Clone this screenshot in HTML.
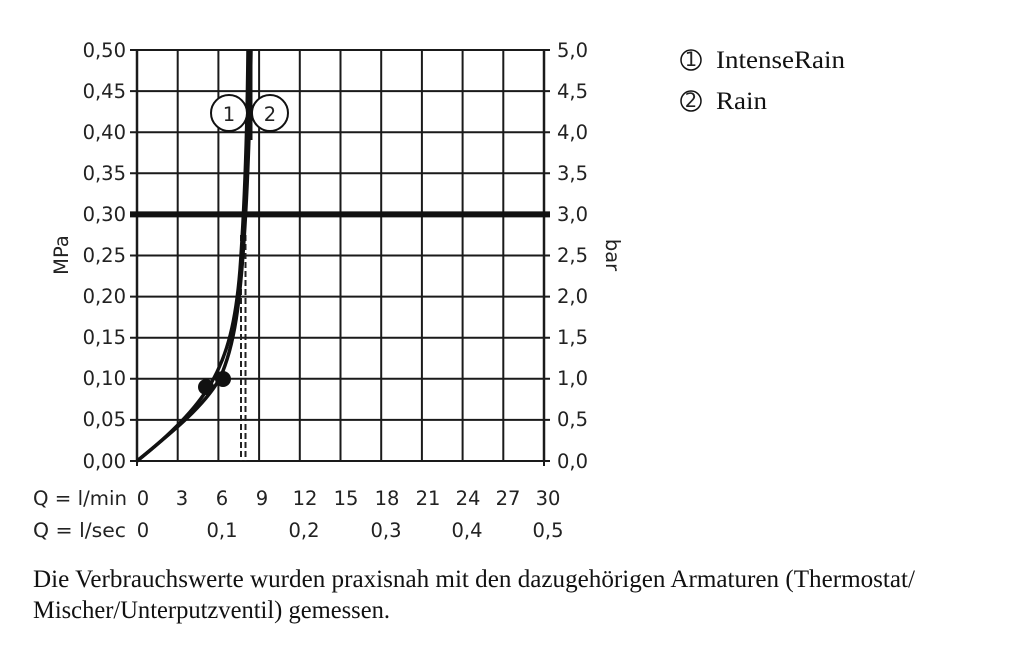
<!DOCTYPE html>
<html><head><meta charset="utf-8"><style>
html,body{margin:0;padding:0;background:#fff;width:1024px;height:652px;overflow:hidden}
svg{display:block}
.s{font-family:"DejaVu Sans","Liberation Sans",sans-serif;font-size:19.5px;fill:#222}
.r{font-family:"Liberation Serif",serif;font-size:25px;fill:#111}
</style></head><body>
<svg width="1024" height="652" viewBox="0 0 1024 652" xmlns="http://www.w3.org/2000/svg">
<g stroke="#1a1a1a" stroke-width="2" fill="none">
<line x1="177.7" y1="50" x2="177.7" y2="461"/><line x1="218.4" y1="50" x2="218.4" y2="461"/>
<line x1="259.1" y1="50" x2="259.1" y2="461"/><line x1="299.8" y1="50" x2="299.8" y2="461"/>
<line x1="340.5" y1="50" x2="340.5" y2="461"/><line x1="381.2" y1="50" x2="381.2" y2="461"/>
<line x1="421.9" y1="50" x2="421.9" y2="461"/><line x1="462.6" y1="50" x2="462.6" y2="461"/>
<line x1="503.3" y1="50" x2="503.3" y2="461"/>
<line x1="130" y1="50" x2="550" y2="50"/><line x1="130" y1="91.1" x2="550" y2="91.1"/>
<line x1="130" y1="132.2" x2="550" y2="132.2"/><line x1="130" y1="173.3" x2="550" y2="173.3"/>
<line x1="130" y1="255.5" x2="550" y2="255.5"/><line x1="130" y1="296.6" x2="550" y2="296.6"/>
<line x1="130" y1="337.7" x2="550" y2="337.7"/><line x1="130" y1="378.8" x2="550" y2="378.8"/>
<line x1="130" y1="419.9" x2="550" y2="419.9"/><line x1="130" y1="461" x2="550" y2="461"/>
<line x1="137" y1="50" x2="137" y2="461" stroke-width="2.5"/>
<line x1="544" y1="50" x2="544" y2="461" stroke-width="2.5"/>
<line x1="137" y1="461" x2="137" y2="466"/><line x1="544" y1="461" x2="544" y2="466"/>
</g>
<line x1="130" y1="214.4" x2="550" y2="214.4" stroke="#111" stroke-width="6"/>
<g stroke="#222" stroke-width="2" stroke-dasharray="6,3">
<line x1="241" y1="235" x2="241" y2="461"/><line x1="245.5" y1="235" x2="245.5" y2="461"/>
</g>
<g fill="none" stroke="#111" stroke-width="3.5">
<path d="M137,461 C170,435 195,410 210,385 C228,355 236,320 240,270 C244,215 247,150 248,50"/>
<path d="M137,461 C175,430 205,405 220,378 C235,345 240,300 244,240 C248,180 250,120 251,50"/>
</g>
<line x1="249.5" y1="50" x2="249.5" y2="140" stroke="#111" stroke-width="6"/>
<circle cx="206" cy="387" r="8" fill="#111"/><circle cx="223" cy="379" r="8" fill="#111"/>
<circle cx="229" cy="113" r="18" fill="#fff" stroke="#111" stroke-width="2"/>
<circle cx="270" cy="113" r="18" fill="#fff" stroke="#111" stroke-width="2"/>
<text class="s" x="229" y="121" text-anchor="middle" font-size="22">1</text>
<text class="s" x="270" y="121" text-anchor="middle" font-size="22">2</text>
<g class="s" text-anchor="end">
<text x="126" y="57">0,50</text><text x="126" y="98">0,45</text><text x="126" y="139">0,40</text>
<text x="126" y="180">0,35</text><text x="126" y="221">0,30</text><text x="126" y="262">0,25</text>
<text x="126" y="303">0,20</text><text x="126" y="344">0,15</text><text x="126" y="385">0,10</text>
<text x="126" y="426">0,05</text><text x="126" y="468">0,00</text>
</g>
<g class="s">
<text x="557" y="57">5,0</text><text x="557" y="98">4,5</text><text x="557" y="139">4,0</text>
<text x="557" y="180">3,5</text><text x="557" y="221">3,0</text><text x="557" y="262">2,5</text>
<text x="557" y="303">2,0</text><text x="557" y="344">1,5</text><text x="557" y="385">1,0</text>
<text x="557" y="426">0,5</text><text x="557" y="468">0,0</text>
</g>
<text class="s" transform="translate(68,255) rotate(-90)" text-anchor="middle">MPa</text>
<text class="s" transform="translate(606,255) rotate(90)" text-anchor="middle">bar</text>
<g class="s">
<text x="33" y="505" textLength="94" lengthAdjust="spacingAndGlyphs">Q = l/min</text>
<text x="33" y="537" textLength="93" lengthAdjust="spacingAndGlyphs">Q = l/sec</text>
</g>
<g class="s" text-anchor="middle">
<text x="143" y="505">0</text><text x="182" y="505">3</text><text x="222" y="505">6</text>
<text x="262" y="505">9</text><text x="305" y="505">12</text><text x="346" y="505">15</text>
<text x="387" y="505">18</text><text x="428" y="505">21</text><text x="468" y="505">24</text>
<text x="508" y="505">27</text><text x="548" y="505">30</text>
<text x="143" y="537">0</text><text x="222" y="537">0,1</text><text x="304" y="537">0,2</text>
<text x="386" y="537">0,3</text><text x="467" y="537">0,4</text><text x="548" y="537">0,5</text>
</g>
<circle cx="691" cy="60" r="10" fill="none" stroke="#111" stroke-width="1.5"/>
<text x="691" y="66" text-anchor="middle" class="s" font-size="14">1</text>
<circle cx="691" cy="101" r="10" fill="none" stroke="#111" stroke-width="1.5"/>
<text x="691" y="107" text-anchor="middle" class="s" font-size="14">2</text>
<text class="r" x="716" y="68" textLength="129" lengthAdjust="spacingAndGlyphs">IntenseRain</text>
<text class="r" x="716" y="109" textLength="51" lengthAdjust="spacingAndGlyphs">Rain</text>
<text class="r" x="33" y="587" font-size="23" textLength="882" lengthAdjust="spacingAndGlyphs">Die Verbrauchswerte wurden praxisnah mit den dazugehörigen Armaturen (Thermostat/</text>
<text class="r" x="33" y="618" font-size="23" textLength="357" lengthAdjust="spacingAndGlyphs">Mischer/Unterputzventil) gemessen.</text>
</svg>
</body></html>
